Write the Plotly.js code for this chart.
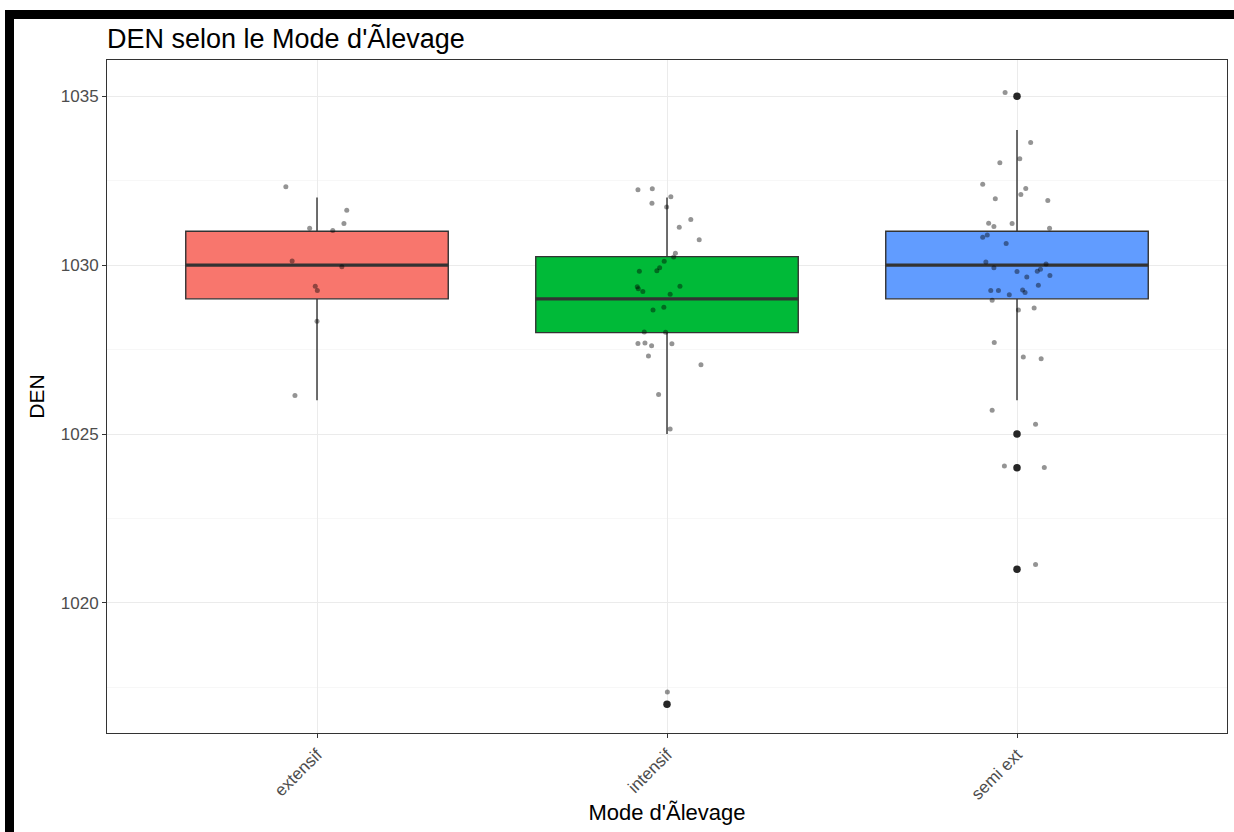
<!DOCTYPE html>
<html>
<head>
<meta charset="utf-8">
<script src="https://cdn.plot.ly/plotly-3.0.1.min.js"></script>
<style>
  html, body { margin: 0; padding: 0; background: #ffffff; }
  #chart { position: absolute; left: 0; top: 0; width: 1234px; height: 832px; }
  .bar { position: absolute; background: #000; z-index: 10; }
</style>
</head>
<body>
<div id="chart"></div>
<div class="bar" style="left:5px; top:10px; width:9px; height:822px;"></div>
<div class="bar" style="left:5px; top:10px; width:1229px; height:9px;"></div>
<script>
// Categories
const categories = ['extensif', 'intensif', 'semi ext'];
const boxColors = ['#F8766D', '#00BA38', '#619CFF'];

// Box statistics
const q1 = [1029, 1028, 1029];
const median = [1030, 1029, 1030];
const q3 = [1031, 1030.25, 1031];
const lowerWhisker = [1026, 1025, 1026];
const upperWhisker = [1032, 1032, 1034];

// Outliers per group
const outliersExtensif = [];
const outliersIntensif = [1017];
const outliersSemiExt = [1035, 1025, 1024, 1021];

// Jittered raw observations: values and horizontal jitter offsets
const denExtensif = [1032.32, 1031.62, 1031.23, 1031.09, 1031.02, 1030.12, 1029.95, 1029.37, 1029.25, 1028.34, 1026.14];
const jitExtensif = [-0.089, 0.085, 0.077, -0.021, 0.045, -0.071, 0.071, -0.005, 0.001, 0, -0.063];

const denIntensif = [1032.23, 1032.26, 1031.83, 1032.02, 1031.72, 1031.35, 1031.12, 1030.75, 1030.35, 1030.24, 1030.11, 1029.92, 1029.83, 1029.82, 1029.36, 1029.30, 1029.22, 1029.37, 1029.14, 1028.75, 1028.67, 1028.02, 1028.01, 1027.68, 1027.69, 1027.61, 1027.67, 1027.31, 1027.05, 1026.17, 1025.15, 1017.36];
const jitIntensif = [-0.083, -0.042, -0.043, 0.011, -0.001, 0.068, 0.035, 0.092, 0.024, 0.019, -0.008, -0.021, -0.029, -0.079, -0.085, -0.082, -0.069, 0.037, 0.009, -0.009, -0.04, -0.065, -0.004, -0.083, -0.063, -0.044, 0.014, -0.053, 0.097, -0.024, 0.009, 0.001];

const denSemiExt = [1035.11, 1033.63, 1033.15, 1033.03, 1032.39, 1032.27, 1032.09, 1031.96, 1031.91, 1031.24, 1031.14, 1031.23, 1031.09, 1030.89, 1030.82, 1030.64, 1030.09, 1030.03, 1029.92, 1029.81, 1029.88, 1029.82, 1029.69, 1029.65, 1029.40, 1029.25, 1029.25, 1029.26, 1029.19, 1029.12, 1028.96, 1028.73, 1028.67, 1027.71, 1027.28, 1027.23, 1025.70, 1025.29, 1024.05, 1024.01, 1021.14];
const jitSemiExt = [-0.034, 0.039, 0.008, -0.049, -0.098, 0.025, 0.011, -0.062, 0.088, -0.081, -0.066, -0.014, 0.093, -0.085, -0.098, -0.031, -0.089, 0.083, -0.066, 0, 0.067, 0.058, 0.094, 0.028, 0.061, -0.075, -0.053, 0.016, 0.023, -0.022, -0.071, 0.049, 0.004, -0.065, 0.018, 0.069, -0.071, 0.053, -0.036, 0.078, 0.053];

const yTicks = [1020, 1025, 1030, 1035];

const outliers = [outliersExtensif, outliersIntensif, outliersSemiExt];
const dens = [denExtensif, denIntensif, denSemiExt];
const jits = [jitExtensif, jitIntensif, jitSemiExt];

const BOXW = 0.75;
const traces = [];

categories.forEach((c, i) => {
  const pos = i + 1;
  traces.push({
    type: 'box',
    orientation: 'v',
    name: c,
    x: [pos],
    q1: [q1[i]],
    median: [median[i]],
    q3: [q3[i]],
    lowerfence: [lowerWhisker[i]],
    upperfence: [upperWhisker[i]],
    width: BOXW,
    whiskerwidth: 0,
    fillcolor: boxColors[i],
    line: { color: '#333333', width: 1.4 },
    boxpoints: false,
    hoverinfo: 'skip',
    showlegend: false
  });
  // thicker median line (ggplot fatten)
  traces.push({
    type: 'scatter',
    mode: 'lines',
    x: [pos - BOXW / 2, pos + BOXW / 2],
    y: [median[i], median[i]],
    line: { color: '#333333', width: 3.2 },
    hoverinfo: 'skip',
    showlegend: false
  });
  // outliers
  if (outliers[i].length) {
    traces.push({
      type: 'scatter',
      mode: 'markers',
      x: outliers[i].map(() => pos),
      y: outliers[i],
      marker: { color: '#262626', size: 7.5 },
      hoverinfo: 'skip',
      showlegend: false
    });
  }
});

categories.forEach((c, i) => {
  const pos = i + 1;
  traces.push({
    type: 'scatter',
    mode: 'markers',
    x: jits[i].map(j => pos + j),
    y: dens[i],
    marker: { color: 'rgba(0,0,0,0.42)', size: 5 },
    hoverinfo: 'skip',
    showlegend: false
  });
});

const layout = {
  width: 1234,
  height: 832,
  margin: { l: 107, r: 7, t: 60, b: 99 },
  paper_bgcolor: '#ffffff',
  plot_bgcolor: '#ffffff',
  font: { family: 'Liberation Sans, Arial, sans-serif', color: '#000000' },
  title: {
    text: "DEN selon le Mode d'Ãlevage",
    font: { size: 27, color: '#000000' },
    xref: 'paper', x: 0, xanchor: 'left',
    yref: 'container', y: 1 - 39 / 832, yanchor: 'middle'
  },
  xaxis: {
    range: [0.4, 3.6],
    tickmode: 'array',
    tickvals: categories.map((c, i) => i + 1),
    ticktext: categories,
    tickangle: -45,
    tickfont: { size: 17, color: '#4d4d4d' },
    ticks: 'outside', ticklen: 4, tickcolor: '#333333', tickwidth: 1,
    showgrid: true, gridcolor: '#ebebeb', gridwidth: 1,
    zeroline: false,
    showline: true, mirror: true, linecolor: '#333333', linewidth: 1,
    title: { text: "Mode d'Ãlevage", font: { size: 22, color: '#000000' }, standoff: 2 }
  },
  yaxis: {
    range: [1016.15, 1036.07],
    tickmode: 'array',
    tickvals: yTicks,
    ticktext: yTicks.map(String),
    tickfont: { size: 17, color: '#4d4d4d' },
    ticks: 'outside', ticklen: 4, tickcolor: '#333333', tickwidth: 1,
    showgrid: true, gridcolor: '#ebebeb', gridwidth: 1,
    minor: { tickvals: [1017.5, 1022.5, 1027.5, 1032.5], showgrid: true, gridcolor: '#f4f4f4', gridwidth: 0.7, ticks: '' },
    zeroline: false,
    showline: true, mirror: true, linecolor: '#333333', linewidth: 1,
    title: { text: 'DEN', font: { size: 21, color: '#000000' }, standoff: 10 }
  },
  showlegend: false
};

Plotly.newPlot('chart', traces, layout, { displayModeBar: false, staticPlot: true });
</script>
</body>
</html>
